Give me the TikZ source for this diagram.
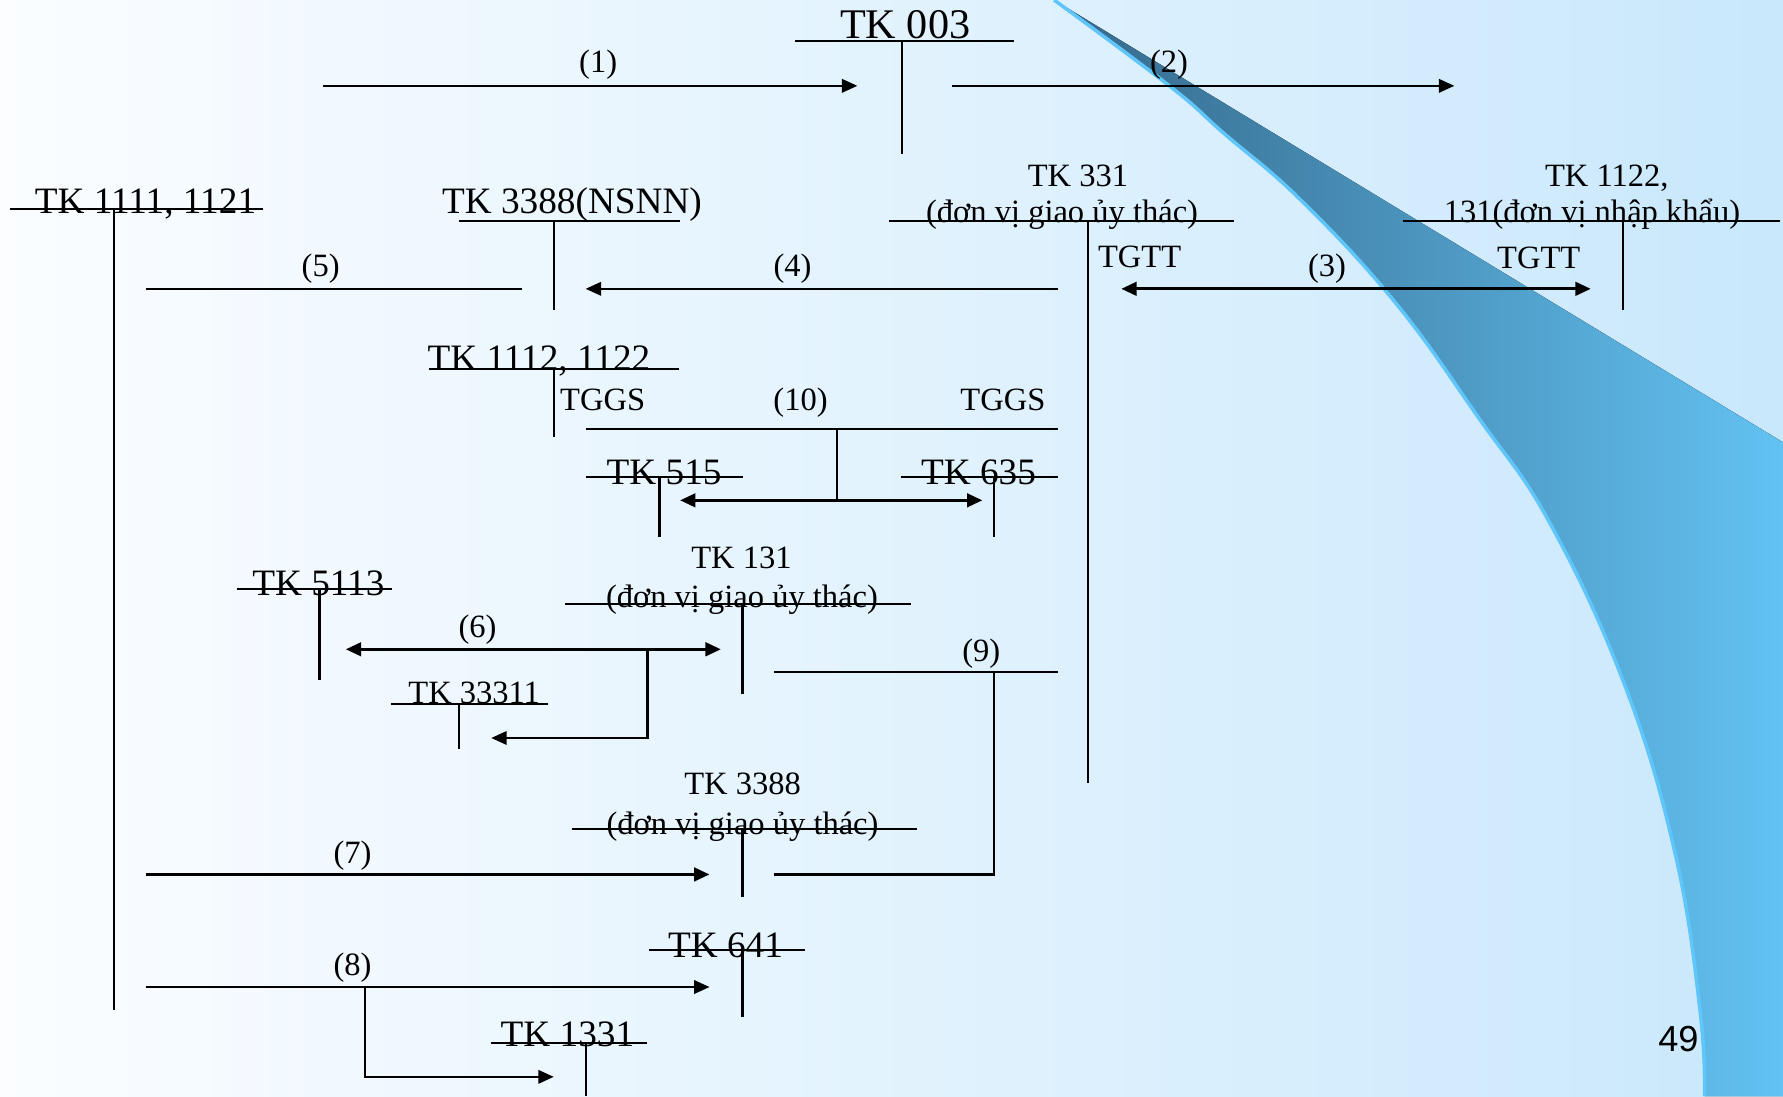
\documentclass[tikz,border=0pt]{standalone}
\usepackage{fontspec}
\setmainfont{Liberation Serif}
\newfontfamily\pagefont{Liberation Sans}
\usetikzlibrary{arrows.meta}
\definecolor{bgleft}{HTML}{FBFDFF}
\definecolor{bgright}{HTML}{C9E8FC}
\definecolor{swdark}{HTML}{35688A}
\definecolor{swlight}{HTML}{62C2F2}
\definecolor{swedge}{HTML}{5EC6FA}
\tikzset{
  tln/.style={line width=0.6pt},
  flow/.style={line width=0.7pt},
  arr/.style={-{Triangle[length=4.4pt,width=3.8pt]}, line width=0.7pt},
  arrthick/.style={-{Triangle[length=4.4pt,width=3.8pt]}, line width=0.95pt},
  darr/.style={{Triangle[length=4.4pt,width=3.8pt]}-{Triangle[length=4.4pt,width=3.8pt]}, line width=0.95pt},
  acctop/.style={font=\fontsize{12}{14}\selectfont, anchor=base, inner sep=0pt},
  accbig/.style={font=\fontsize{10.6}{12}\selectfont, anchor=base, inner sep=0pt},
  accsml/.style={font=\fontsize{9.25}{11}\selectfont, anchor=base, inner sep=0pt},
  num/.style={font=\fontsize{9.25}{11}\selectfont, anchor=base, inner sep=0pt},
}

\begin{document}
\begin{tikzpicture}[x=0.011371cm, y=-0.011371cm]
%---- slide background
\useasboundingbox (0,0) rectangle (1568,964);
\fill[left color=bgleft, right color=bgright] (0,0) rectangle (1568,964);
\fill[left color=swdark, right color=swlight] (927,0) -- (1568,389) -- (1568,964) -- (1499,964)
  -- plot[smooth, tension=0.7] coordinates {(1499,964) (1495,888) (1473,750) (1429,603) (1363,460)
     (1300,367) (1227,266) (1144,176) (1076,117) (1029,76) (927,0)} -- cycle;
\draw[swedge, line width=1pt] plot[smooth, tension=0.7] coordinates {(1499,964) (1495,888)
  (1473,750) (1429,603) (1363,460) (1300,367) (1227,266) (1144,176) (1076,117) (1029,76) (927,0)};

%---- TK 003
\node[acctop] (tk003) at (796,34) {TK 003};
\draw[tln] (699,36) -- (892,36);
\draw[tln] (793,36) -- (793,135);
\coordinate (a1s) at (284,75.5);
\coordinate (a1e) at (754,75.5);
\coordinate (a2s) at (837,75.5);
\coordinate (a2e) at (1279,75.5);
\draw[arr] (a1s) -- (a1e);
\draw[arr] (a2s) -- (a2e);
\node[num] (n1) at (526,64) {(1)};
\node[num] (n2) at (1028,64) {(2)};

%---- TK 1111, 1121
\node[accbig] (tk1111) at (128,188) {TK 1111, 1121};
\draw[tln] (9,184) -- (231,184);
\draw[tln] (100,184) -- (100,888);

%---- TK 3388(NSNN)
\node[accbig] (tk3388n) at (503,188) {TK 3388(NSNN)};
\draw[tln] (404,194) -- (598,194);
\draw[tln] (487,194) -- (487,273);
\coordinate (l5s) at (128,254);
\coordinate (l5e) at (459,254);
\draw[flow] (l5s) -- (l5e);
\node[num] (n5) at (282,243) {(5)};
\coordinate (a4s) at (930,254);
\coordinate (a4e) at (515,254);
\draw[arr] (a4s) -- (a4e);
\node[num] (n4) at (697,243) {(4)};

%---- TK 331
\node[accsml] (tk331) at (948,164) {TK 331};
\node[accsml] (tk331b) at (934,196) {(đơn vị giao ủy thác)};
\draw[tln] (782,194) -- (1085,194);
\draw[tln] (957,194) -- (957,689);
\node[accsml, anchor=base west] (tgtt1) at (965,235) {TGTT};

%---- TK 1122, 131
\node[accsml] (tk1122) at (1413,164) {TK 1122,};
\node[accsml] (tk1122b) at (1400,196) {131(đơn vị nhập khẩu)};
\draw[tln] (1234,194) -- (1565,194);
\draw[tln] (1427.5,194) -- (1427.5,273);
\node[accsml, anchor=base west] (tgtt2) at (1316,236) {TGTT};
\coordinate (a3s) at (986,254);
\coordinate (a3e) at (1399,254);
\draw[darr] (a3s) -- (a3e);
\node[num] (n3) at (1167,243) {(3)};

%---- TK 1112, 1122
\node[accbig] (tk1112) at (474,326) {TK 1112, 1122};
\draw[tln] (377,324.5) -- (597,324.5);
\draw[tln] (487,324.5) -- (487,384);
\node[accsml, anchor=base west] (tggs1) at (492,361) {TGGS};
\node[num] (n10) at (704,361) {(10)};
\node[accsml] (tggs2) at (882,361) {TGGS};
\coordinate (l10s) at (515,377.5);
\coordinate (l10e) at (930,377.5);
\coordinate (l10m) at (736,378);
\coordinate (l10b) at (736,440);
\draw[flow] (l10s) -- (l10e);
\draw[tln] (l10m) -- (l10b);
\coordinate (a10s) at (598,440);
\coordinate (a10e) at (864,440);
\draw[darr] (a10s) -- (a10e);

%---- TK 515 and TK 635
\node[accbig] (tk515) at (584,426) {TK 515};
\draw[tln] (515,419.5) -- (653,419.5);
\draw[tln] (580,419.5) -- (580,472);
\node[accbig] (tk635) at (860.5,426) {TK 635};
\draw[tln] (792,419.5) -- (930,419.5);
\draw[tln] (874,419.5) -- (874,472);

%---- TK 131
\node[accsml] (tk131) at (652,500) {TK 131};
\node[accsml] (tk131b) at (652.5,534.5) {(đơn vị giao ủy thác)};
\draw[tln] (497,531) -- (801,531);
\draw[tln] (653,531) -- (653,610);

%---- TK 5113
\node[accbig] (tk5113) at (280,524) {TK 5113};
\draw[tln] (208,518) -- (345,518);
\draw[tln] (281,518) -- (281,598);
\coordinate (a6s) at (304,571);
\coordinate (a6e) at (634,571);
\draw[darr] (a6s) -- (a6e);
\node[num] (n6) at (420,561) {(6)};
\coordinate (a6m) at (569.5,571);
\coordinate (a6t) at (432,649);
\draw[arr] (a6m) |- (a6t);

%---- TK 33311
\node[accsml] (tk33311) at (417,619) {TK 33311};
\draw[tln] (344,619) -- (482,619);
\draw[tln] (404,619) -- (404,659);

%---- (9)
\coordinate (l9s) at (680.5,591);
\coordinate (l9e) at (930,591);
\coordinate (l9m) at (874,591);
\coordinate (l9t) at (680.5,769);
\draw[flow] (l9s) -- (l9e);
\draw[tln] (l9m) |- (l9t);
\node[num] (n9) at (863,582) {(9)};

%---- TK 3388
\node[accsml] (tk3388) at (653,698.5) {TK 3388};
\node[accsml] (tk3388b) at (653,733.5) {(đơn vị giao ủy thác)};
\draw[tln] (503,729) -- (806,729);
\draw[tln] (653,729) -- (653,789);
\coordinate (a7s) at (128,769);
\coordinate (a7e) at (624,769);
\draw[arrthick] (a7s) -- (a7e);
\node[num] (n7) at (310,759) {(7)};

%---- TK 641
\node[accbig] (tk641) at (638,842) {TK 641};
\draw[tln] (571,835.5) -- (708,835.5);
\draw[tln] (653,835.5) -- (653,894);
\coordinate (a8s) at (128,868);
\coordinate (a8e) at (624,868);
\draw[arr] (a8s) -- (a8e);
\node[num] (n8) at (310,858) {(8)};
\coordinate (a8m) at (321,868);
\coordinate (a8t) at (487,947);
\draw[arr] (a8m) |- (a8t);

%---- TK 1331
\node[accbig] (tk1331) at (499,920) {TK 1331};
\draw[tln] (432,917.5) -- (569,917.5);
\draw[tln] (515,917.5) -- (515,964);

\node[font=\pagefont\fontsize{10.3}{12}\selectfont, anchor=base, inner sep=0pt] (page) at (1476,925) {49};
\end{tikzpicture}
\end{document}
